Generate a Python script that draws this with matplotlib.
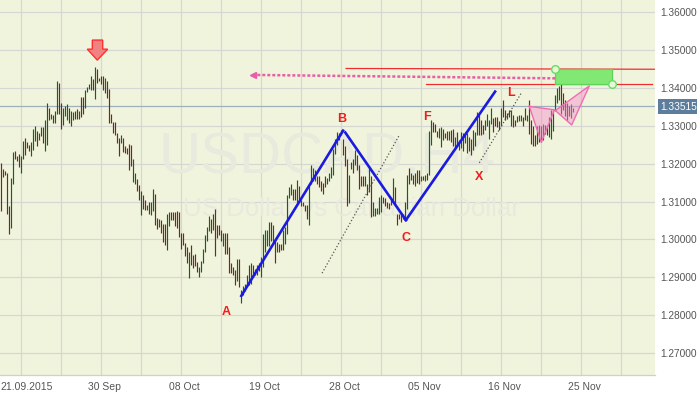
import matplotlib
matplotlib.use('Agg')
from matplotlib import pyplot as plt
from matplotlib.patches import Rectangle
from matplotlib.transforms import ScaledTranslation

# bar data, one pair per bar, colour 'r' falling / 'g' rising
highs = [
    1.3201, 1.3185, 1.3180, 1.3175, 1.3088, 1.3161, 1.3230, 1.3232, 1.3219, 1.3225,
    1.3219, 1.3259, 1.3267, 1.3256, 1.3248, 1.3256, 1.3290, 1.3298, 1.3285, 1.3282,
    1.3296, 1.3296, 1.3314, 1.3359, 1.3348, 1.3330, 1.3327, 1.3338, 1.3417, 1.3414,
    1.3361, 1.3348, 1.3351, 1.3356, 1.3348, 1.3340, 1.3335, 1.3340, 1.3343, 1.3338,
    1.3377, 1.3375, 1.3393, 1.3401, 1.3411, 1.3430, 1.3422, 1.3455, 1.3449, 1.3427,
    1.3430, 1.3430, 1.3425, 1.3419, 1.3396, 1.3332, 1.3309, 1.3309, 1.3282, 1.3267,
    1.3275, 1.3267, 1.3246, 1.3240, 1.3251, 1.3248, 1.3211, 1.3175, 1.3159, 1.3143,
    1.3127, 1.3117, 1.3104, 1.3090, 1.3098, 1.3098, 1.3132, 1.3119, 1.3056, 1.3053,
    1.3051, 1.3040, 1.3040, 1.3067, 1.3072, 1.3072, 1.3072, 1.3072, 1.3075, 1.3072,
    1.3016, 1.3016, 1.2990, 1.2979, 1.2967, 1.2985, 1.2959, 1.2961, 1.2940, 1.2927,
    1.2942, 1.2974, 1.3011, 1.3034, 1.3063, 1.3055, 1.3066, 1.3079, 1.3039, 1.3037,
    1.3024, 1.3018, 1.3018, 1.3016, 1.2979, 1.2939, 1.2926, 1.2918, 1.2947, 1.2947,
    1.2866, 1.2876, 1.2882, 1.2905, 1.2932, 1.2939, 1.2932, 1.2921, 1.2932, 1.2937,
    1.2953, 1.3013, 1.3026, 1.3026, 1.3047, 1.3045, 1.3039, 1.3000, 1.2992, 1.2989,
    1.2987, 1.3026, 1.3032, 1.3118, 1.3139, 1.3145, 1.3134, 1.3132, 1.3158, 1.3142,
    1.3105, 1.3100, 1.3092, 1.3092, 1.3145, 1.3197, 1.3189, 1.3182, 1.3168, 1.3168,
    1.3153, 1.3150, 1.3166, 1.3161, 1.3176, 1.3192, 1.3239, 1.3266, 1.3284, 1.3282,
    1.3289, 1.3266, 1.3247, 1.3211, 1.3171, 1.3205, 1.3211, 1.3237, 1.3224, 1.3197,
    1.3168, 1.3166, 1.3166, 1.3147, 1.3189, 1.3166, 1.3100, 1.3082, 1.3082, 1.3111,
    1.3116, 1.3111, 1.3108, 1.3100, 1.3095, 1.3108, 1.3161, 1.3137, 1.3068, 1.3068,
    1.3068, 1.3066, 1.3100, 1.3171, 1.3189, 1.3174, 1.3171, 1.3175, 1.3184, 1.3182,
    1.3168, 1.3168, 1.3171, 1.3174, 1.3287, 1.3316, 1.3311, 1.3305, 1.3287, 1.3295,
    1.3297, 1.3292, 1.3282, 1.3287, 1.3287, 1.3289, 1.3292, 1.3271, 1.3284, 1.3263,
    1.3284, 1.3282, 1.3284, 1.3282, 1.3271, 1.3266, 1.3289, 1.3284, 1.3337, 1.3329,
    1.3316, 1.3303, 1.3316, 1.3332, 1.3316, 1.3347, 1.3321, 1.3324, 1.3324, 1.3313,
    1.3347, 1.3368, 1.3342, 1.3334, 1.3342, 1.3342, 1.3329, 1.3316, 1.3326, 1.3329,
    1.3329, 1.3324, 1.3347, 1.3329, 1.3368, 1.3316, 1.3300, 1.3276, 1.3300, 1.3303,
    1.3300, 1.3305, 1.3303, 1.3303, 1.3324, 1.3342, 1.3342, 1.3382, 1.3400, 1.3405,
    1.3434, 1.3386, 1.3368, 1.3361, 1.3353, 1.3358, 1.3347,
]
lows = [
    1.3075, 1.3164, 1.3169, 1.3067, 1.3014, 1.3030, 1.3146, 1.3211, 1.3206, 1.3190,
    1.3175, 1.3211, 1.3222, 1.3240, 1.3232, 1.3219, 1.3235, 1.3259, 1.3246, 1.3261,
    1.3272, 1.3254, 1.3232, 1.3248, 1.3314, 1.3317, 1.3306, 1.3306, 1.3330, 1.3332,
    1.3290, 1.3301, 1.3325, 1.3314, 1.3306, 1.3298, 1.3314, 1.3319, 1.3317, 1.3317,
    1.3322, 1.3330, 1.3346, 1.3388, 1.3398, 1.3393, 1.3393, 1.3370, 1.3414, 1.3419,
    1.3409, 1.3394, 1.3385, 1.3372, 1.3306, 1.3306, 1.3280, 1.3275, 1.3254, 1.3219,
    1.3254, 1.3230, 1.3227, 1.3225, 1.3182, 1.3193, 1.3151, 1.3146, 1.3127, 1.3104,
    1.3064, 1.3080, 1.3077, 1.3077, 1.3067, 1.3064, 1.3075, 1.3038, 1.3027, 1.3032,
    1.3017, 1.2993, 1.2985, 1.2972, 1.3035, 1.3051, 1.3051, 1.3035, 1.3030, 1.3006,
    1.2974, 1.2985, 1.2956, 1.2937, 1.2898, 1.2932, 1.2925, 1.2930, 1.2914, 1.2900,
    1.2913, 1.2937, 1.2966, 1.2995, 1.3021, 1.3018, 1.3026, 1.2955, 1.3005, 1.3011,
    1.2997, 1.2982, 1.2961, 1.2961, 1.2911, 1.2911, 1.2905, 1.2879, 1.2889, 1.2874,
    1.2832, 1.2853, 1.2863, 1.2879, 1.2879, 1.2882, 1.2902, 1.2905, 1.2905, 1.2916,
    1.2900, 1.2926, 1.2968, 1.2982, 1.2982, 1.2997, 1.2987, 1.2937, 1.2968, 1.2968,
    1.2971, 1.2971, 1.2989, 1.3013, 1.3108, 1.3118, 1.3105, 1.3103, 1.3100, 1.3105,
    1.3088, 1.3087, 1.3074, 1.3055, 1.3039, 1.3145, 1.3155, 1.3153, 1.3145, 1.3137,
    1.3129, 1.3121, 1.3137, 1.3145, 1.3155, 1.3161, 1.3171, 1.3226, 1.3250, 1.3261,
    1.3276, 1.3224, 1.3195, 1.3089, 1.3095, 1.3187, 1.3174, 1.3197, 1.3184, 1.3132,
    1.3142, 1.3142, 1.3142, 1.3118, 1.3126, 1.3058, 1.3061, 1.3063, 1.3066, 1.3068,
    1.3071, 1.3095, 1.3087, 1.3082, 1.3079, 1.3092, 1.3100, 1.3087, 1.3037, 1.3053,
    1.3047, 1.3053, 1.3054, 1.3079, 1.3145, 1.3158, 1.3145, 1.3140, 1.3149, 1.3147,
    1.3153, 1.3158, 1.3155, 1.3158, 1.3171, 1.3250, 1.3284, 1.3284, 1.3271, 1.3268,
    1.3245, 1.3263, 1.3268, 1.3261, 1.3263, 1.3258, 1.3247, 1.3245, 1.3250, 1.3237,
    1.3242, 1.3232, 1.3255, 1.3229, 1.3232, 1.3224, 1.3237, 1.3247, 1.3276, 1.3276,
    1.3276, 1.3279, 1.3289, 1.3300, 1.3266, 1.3305, 1.3284, 1.3300, 1.3297, 1.3289,
    1.3300, 1.3324, 1.3316, 1.3318, 1.3324, 1.3300, 1.3297, 1.3300, 1.3311, 1.3313,
    1.3313, 1.3300, 1.3316, 1.3313, 1.3279, 1.3253, 1.3247, 1.3247, 1.3253, 1.3256,
    1.3258, 1.3263, 1.3279, 1.3276, 1.3271, 1.3266, 1.3285, 1.3342, 1.3361, 1.3368,
    1.3332, 1.3342, 1.3326, 1.3316, 1.3326, 1.3320, 1.3335,
]
colors = (
    'rrrrrggrrr' 'ggrrrgggrg' 'grggrgrggr' 'rgggrggrrg' 'rrggggrgrg'
    'rrgrrrrrrr' 'grrrrrggrr' 'grrgrggrrg' 'rrrggrrrrr' 'rrrrgrrrrg'
    'gggggrgrrr' 'rgrrrrrrgr' 'ggggrgrrrr' 'gggggrgrgr' 'rgggggrrgr'
    'rrrrgggrrr' 'rrrggggggr' 'grrrggrgrr' 'rrgrgrgggg' 'grrrrrgrrr'
    'rrggrgrgrr' 'grgrggrrrg' 'grrrgrrgrg' 'grggrrgggr' 'rrggggrrrr'
    'grrgrgrrgg' 'grrgrrrrgr' 'rgrrgggggg' 'rrrrrgg'
)

price_ticks = [1.36, 1.35, 1.34, 1.33, 1.32, 1.31, 1.30, 1.29, 1.28, 1.27]
date_ticks = [10, 50, 90, 130, 170, 210, 250, 290]
date_labels = ['21.09.2015', '30 Sep', '08 Oct', '19 Oct', '28 Oct', '05 Nov', '16 Nov', '25 Nov']
last_price = 1.33515

# abcd pattern
ab_x, ab_y = [120, 170.9], [1.2851, 1.3287]
bc_x, bc_y = [172, 202.3], [1.3282, 1.3051]
cd_x, cd_y = [202.3, 246.9], [1.3051, 1.3390]
dot1_x, dot1_y = [160.4, 199], [1.2911, 1.3275]
dot2_x, dot2_y = [239, 260.2], [1.3202, 1.3388]

res_x, res_y = [172.4, 326.5], [1.3451, 1.3449]
sup_x, sup_y = [212.3, 325.2], [1.3410, 1.3410]
zone_x, zone_y = [277, 305.2], [1.3450, 1.3411]
arrow_x, arrow_y = [277, 125.8], [1.3425, 1.3434]
tri1_x, tri1_y = [264, 270, 276.6], [1.3351, 1.3256, 1.3342]
tri2_x, tri2_y = [277, 285.2, 294], [1.3340, 1.3302, 1.3405]

labels = ['A', 'B', 'C', 'F', 'X', 'L']
label_x = [112.5, 170, 202.5, 213, 239, 255]
label_y = [1.2808, 1.3318, 1.3005, 1.3324, 1.3165, 1.3387]

down_x = [45.5, 50.7, 50.7, 53.2, 48, 43, 45.5]
down_y = [1.3526, 1.3526, 1.3502, 1.3502, 1.3473, 1.3502, 1.3502]

plt.rcParams['font.family'] = ['Liberation Sans', 'DejaVu Sans']

fig = plt.figure(figsize=(7, 3.94), dpi=100)
ax = fig.add_axes([0, 19 / 394, 654.5 / 700, 375 / 394])
ax.set_facecolor('#f1f4dc')
ax.set_xlim(-0.65, 326.6)
ax.set_ylim(1.26422, 1.36317)

# grid
for i in range(10, 327, 20):
    ax.axvline(x=i, c='#d6d6d2', lw=0.9, zorder=1)
for p in price_ticks:
    ax.axhline(y=p, c='#d6d6d2', lw=0.9, zorder=1)
ax.axhline(y=last_price, c='#9db0bb', lw=0.9, zorder=2)

# watermark
ax.text(163, 1.3175, 'USDCAD,H4', fontsize=42, color='#e7eadc', ha='center', va='baseline', zorder=1.5)
ax.text(175, 1.3062, 'US Dollar vs Canadian Dollar', fontsize=18.6, color='#e7eadc', ha='center', va='baseline', zorder=1.5)

# bars
for i in range(len(highs)):
    c = '#6b2c22' if colors[i] == 'r' else '#1f5c25'
    ax.vlines(i, lows[i], highs[i], colors=c, lw=0.85, zorder=3)

# red lines, zone and projection
ax.plot(res_x, res_y, c='#f02d2d', lw=0.9, zorder=4)
ax.plot(sup_x, sup_y, c='#f02d2d', lw=0.9, zorder=4)
ax.fill([zone_x[0], zone_x[1], zone_x[1], zone_x[0]], [zone_y[0], zone_y[0], zone_y[1], zone_y[1]],
        fc='#82e874', ec='#5fd35a', lw=0.9, zorder=5)
ax.plot(zone_x, zone_y, ls='none', marker='o', ms=5.5, mfc='#e8f8d8', mec='#66dd66', mew=1, zorder=6)
ax.plot(arrow_x, arrow_y, c='#e75fa6', lw=1.8, ls=(0, (1.2, 0.8)), zorder=5)
ax.plot(arrow_x[1:], arrow_y[1:], c='#e75fa6', marker='<', ms=4, ls='none', zorder=5)

# pink triangles
ax.fill(tri1_x, tri1_y, fc='#f48ccb', alpha=0.45, zorder=5)
ax.fill(tri2_x, tri2_y, fc='#f48ccb', alpha=0.45, zorder=5)
ax.plot(tri1_x + tri1_x[:1], tri1_y + tri1_y[:1], c='#f06cb4', lw=1, zorder=5)
ax.plot(tri2_x + tri2_x[:1], tri2_y + tri2_y[:1], c='#f06cb4', lw=1, zorder=5)

# pattern lines
for xs, ys in [(ab_x, ab_y), (bc_x, bc_y), (cd_x, cd_y)]:
    ax.plot(xs, ys, c='#1a1ae0', lw=1.9, zorder=6)
ax.plot(dot1_x, dot1_y, c='#555555', lw=0.9, ls=':', zorder=4)
ax.plot(dot2_x, dot2_y, c='#555555', lw=0.9, ls=':', zorder=4)

for s, x, y in zip(labels, label_x, label_y):
    ax.text(x, y, s, color='#f01c1c', fontsize=9, fontweight='bold', ha='center', va='center', zorder=7)

ax.fill(down_x, down_y, fc='#f08282', ec='#ff3030', lw=1, zorder=7)

# axes
for side in ['top', 'left', 'right']:
    ax.spines[side].set_visible(False)
ax.spines['bottom'].set_color('#cfcfcf')
ax.spines['bottom'].set_linewidth(0.9)

ax.set_xticks(date_ticks)
ax.set_xticklabels(date_labels)
ax.set_yticks(price_ticks)
ax.set_yticklabels(['%.5f' % p for p in price_ticks])
ax.yaxis.tick_right()
ax.tick_params(axis='x', length=0, pad=5, labelsize=7.5, labelcolor='#555555')
ax.tick_params(axis='y', length=0, pad=4.2, labelsize=7.3, labelcolor='#555555')
labels_x = ax.get_xticklabels()
for n, t in enumerate(labels_x):
    dx = 5.5 if n == 0 else 3.5
    t.set_transform(t.get_transform() + ScaledTranslation(dx / 100, 0, fig.dpi_scale_trans))

# last price box
fig.add_artist(Rectangle((658 / 700, (394 - 114) / 394), 39 / 700, 15 / 394, fc='#5d7d9c', ec='none',
                         transform=fig.transFigure, zorder=8))
fig.text(660 / 700, (394 - 106.5) / 394, '%.5f' % last_price, fontsize=7.3, color='white',
         va='center', ha='left', zorder=9)

plt.savefig('out.png', dpi=100)
plt.close()
